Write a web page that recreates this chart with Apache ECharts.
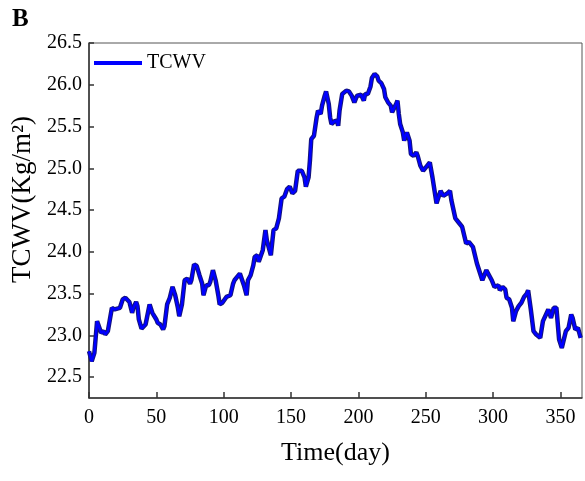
<!DOCTYPE html>
<html>
<head>
<meta charset="utf-8">
<script src="https://cdn.jsdelivr.net/npm/echarts@6/dist/echarts.min.js"></script>
<style>
    html, body {margin: 0; padding: 0; background: #fff;}
    #chart {width: 585px; height: 481px;}
</style>
</head>
<body>
<div id="chart"></div>
<script>
// daily TCWV (day of year, Kg/m2)
var days = [0, 2, 4, 6, 9, 11, 12, 14, 17, 19, 20, 23, 25, 27, 30, 32, 33, 35, 36, 37, 39, 42, 45, 47, 48,
    50, 51, 52, 53, 55, 56, 58, 60, 62, 64, 66, 67, 69, 71, 73, 75, 76, 78, 80, 82, 84, 85, 87, 89, 90,
    92, 94, 96, 97, 99, 102, 103, 105, 107, 108, 110, 112, 113, 115, 117, 118, 120, 122, 123, 125, 126, 127, 129, 131, 132,
    135, 137, 139, 141, 143, 145, 147, 149, 151, 153, 155, 158, 160, 161, 163, 164, 165, 167, 169, 170,
    172, 173, 175, 176, 178, 179, 180, 182, 184, 185, 186, 188, 189, 191, 193, 195, 197, 199, 200, 202,
    204, 205, 207, 209, 210, 212, 214, 215, 217, 219, 220, 222, 224, 225, 226, 228, 229, 230, 231, 233,
    234, 235, 236, 238, 239, 241, 243, 244, 246, 248, 251, 253, 255, 258, 261, 263, 266, 268, 269, 272,
    274, 277, 280, 282, 285, 288, 292, 295, 299, 301, 304, 305, 307, 309, 310, 312, 314, 315, 317, 319,
    321, 323, 325, 326, 328, 330, 332, 335, 337, 338, 341, 343, 345, 347, 349, 351, 354, 356, 358, 359,
    361, 363, 365];
var tcwv = [22.81, 22.69, 22.79, 23.17, 23.03, 23.05, 23.01, 23.05, 23.33, 23.31, 23.33, 23.33, 23.43, 23.45, 23.40, 23.27, 23.33, 23.40, 23.35, 23.19, 23.08, 23.13, 23.37, 23.27, 23.25,
    23.19, 23.15, 23.17, 23.13, 23.07, 23.11, 23.37, 23.45, 23.58, 23.48, 23.33, 23.23, 23.37, 23.66, 23.68, 23.62, 23.66, 23.85, 23.83, 23.72, 23.62, 23.48, 23.60, 23.60, 23.64,
    23.78, 23.66, 23.48, 23.37, 23.39, 23.46, 23.46, 23.48, 23.62, 23.66, 23.70, 23.74, 23.72, 23.60, 23.48, 23.66, 23.72, 23.84, 23.94, 23.96, 23.88, 23.88, 24.02, 24.26, 24.14,
    23.96, 24.26, 24.28, 24.40, 24.64, 24.66, 24.75, 24.78, 24.70, 24.73, 24.97, 24.97, 24.89, 24.78, 24.89, 25.09, 25.35, 25.39, 25.61, 25.69,
    25.65, 25.75, 25.87, 25.92, 25.77, 25.61, 25.53, 25.56, 25.57, 25.51, 25.69, 25.89, 25.90, 25.93, 25.92, 25.87, 25.79, 25.87, 25.85, 25.88,
    25.81, 25.89, 25.89, 25.98, 26.08, 26.13, 26.10, 26.05, 26.02, 25.95, 25.85, 25.79, 25.75, 25.67, 25.65, 25.77, 25.81, 25.65, 25.53, 25.43,
    25.33, 25.39, 25.43, 25.33, 25.17, 25.15, 25.19, 25.15, 25.03, 24.97, 25.03, 25.07, 24.89, 24.58, 24.73, 24.67, 24.70, 24.73, 24.62, 24.40,
    24.36, 24.30, 24.10, 24.12, 24.06, 23.86, 23.66, 23.78, 23.66, 23.58, 23.60, 23.54, 23.58, 23.55, 23.45, 23.43, 23.33, 23.17, 23.29, 23.35,
    23.39, 23.46, 23.50, 23.54, 23.31, 23.05, 23.01, 22.97, 23.17, 23.19, 23.31, 23.21, 23.33, 23.33, 22.95, 22.85, 23.05, 23.09, 23.25, 23.21,
    23.07, 23.09, 22.97];
var xTicks = [0, 50, 100, 150, 200, 250, 300, 350];
var yTicks = [22.5, 23.0, 23.5, 24.0, 24.5, 25.0, 25.5, 26.0, 26.5];

var serif = 'Liberation Serif';
var pts = [];
for (var i = 0; i < days.length; i++) {
    pts.push([days[i], tcwv[i]]);
}

var myChart = echarts.init(document.getElementById('chart'), null, {renderer: 'canvas'});
var option = {
    animation: false,
    backgroundColor: '#fff',
    grid: {
        left: 89, right: 3, top: 43, bottom: 83,
        containLabel: false,
        outerBoundsMode: 'none',
        show: true,
        borderColor: '#555',
        borderWidth: 1
    },
    graphic: [{
        type: 'text', left: 12, top: 7,
        style: {text: 'B', font: 'bold 25px "Liberation Serif"', fill: '#000'}
    }],
    legend: {
        data: [{name: 'TCWV', icon: 'rect'}],
        left: 89, top: 48,
        itemWidth: 48, itemHeight: 4, itemGap: 5,
        itemStyle: {color: '#0000ff'},
        textStyle: {fontFamily: serif, fontSize: 20, color: '#000'}
    },
    xAxis: {
        type: 'value',
        min: 0, max: 366,
        name: 'Time(day)',
        nameLocation: 'middle',
        nameGap: 42,
        nameTextStyle: {fontFamily: serif, fontSize: 26, color: '#000'},
        axisLine: {lineStyle: {color: '#333', width: 1.5}},
        axisTick: {inside: true, length: 6, customValues: xTicks, lineStyle: {color: '#333', width: 1.5}},
        axisLabel: {customValues: xTicks, fontFamily: serif, fontSize: 20, color: '#000', margin: 10},
        splitLine: {show: false}
    },
    yAxis: {
        type: 'value',
        min: 22.25, max: 26.5,
        name: 'TCWV(Kg/m²)',
        nameLocation: 'middle',
        nameGap: 44,
        nameTextStyle: {fontFamily: serif, fontSize: 27, color: '#000', padding: [0, 0, 0, 42]},
        axisLine: {lineStyle: {color: '#333', width: 1.5}},
        axisTick: {inside: true, length: 5, customValues: yTicks, lineStyle: {color: '#333', width: 1.5}},
        axisLabel: {
            customValues: yTicks, fontFamily: serif, fontSize: 20, color: '#000', margin: 7,
            formatter: function (v) { return v.toFixed(1); }
        },
        splitLine: {show: false}
    },
    series: [
        {
            // dark edge under the blue line
            name: 'edge',
            type: 'line',
            data: pts,
            symbol: 'none',
            silent: true,
            lineStyle: {color: '#14147a', width: 4.5},
            z: 2
        },
        {
            name: 'TCWV',
            type: 'line',
            data: pts,
            symbol: 'none',
            lineStyle: {color: '#0000ff', width: 2.5},
            itemStyle: {color: '#0000ff'},
            z: 3
        }
    ]
};
myChart.setOption(option);
</script>
</body>
</html>
